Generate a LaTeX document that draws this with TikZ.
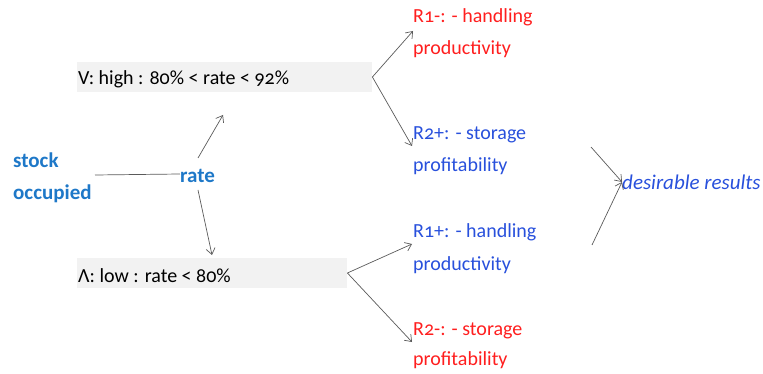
\documentclass[tikz,border=0pt]{standalone}
\usepackage{fontspec}
\setmainfont[Numbers=OldStyle]{Carlito}
\usetikzlibrary{arrows.meta}
\definecolor{stockblue}{RGB}{30,120,200}
\definecolor{rblue}{RGB}{40,80,220}
\definecolor{rred}{RGB}{255,30,30}
\definecolor{boxgray}{RGB}{242,242,242}
\definecolor{linegray}{RGB}{90,90,90}
\tikzset{
  txt/.style={anchor=base west, inner sep=0pt, font=\fontsize{20}{22}\selectfont},
  lbl/.style={txt, text=stockblue, font=\fontsize{21}{23}\selectfont\bfseries},
  redtxt/.style={txt, text=rred},
  bluetxt/.style={txt, text=rblue},
  condbox/.style={anchor=west, fill=boxgray, minimum height=30pt, inner xsep=1pt, inner ysep=0pt, align=left, text depth=0pt},
  conn/.style={draw=linegray, line width=0.7pt},
  arr/.style={conn, -{Straight Barb[length=6pt, width=9pt, line width=0.7pt]}},
}
\begin{document}
\begin{tikzpicture}[x=1pt, y=-1pt]
\useasboundingbox (0,0) rectangle (763,374);
% condition boxes
\node[condbox, minimum width=295pt] (V) at (77,77) {};
\node[txt] (Vt) at (78,85) {V: high : 80\% < rate < 92\%};
\node[condbox, minimum width=270pt] (L) at (77,273) {};
\node[txt] (Lt) at (78,282) {Λ: low : rate < 80\%};
% left labels
\node[lbl] (stock) at (13,168) {stock};
\node[lbl] (occ) at (13,200) {occupied};
\node[lbl] (rate) at (180,183) {rate};
% results
\node[redtxt] (r1m) at (413,23) {R1-: - handling};
\node[redtxt] (r1m2) at (413,55) {productivity};
\node[bluetxt] (r2p) at (413,140) {R2+: - storage};
\node[bluetxt] (r2p2) at (413,172) {profitability};
\node[bluetxt] (r1p) at (413,238) {R1+: - handling};
\node[bluetxt] (r1p2) at (413,270) {productivity};
\node[redtxt] (r2m) at (413,335) {R2-: - storage};
\node[redtxt] (r2m2) at (413,365) {profitability};
\node[txt, text=rblue, font=\fontsize{21}{23}\selectfont\itshape] (des) at (622,190) {desirable results};
% connector end points
\coordinate (stockR) at (95,175);
\coordinate (rateL) at (180,174);
\coordinate (rateT) at (198,158);
\coordinate (rateB) at (198,190);
\coordinate (Vin) at (223,115);
\coordinate (Lin) at (212,255);
\coordinate (r1mIn) at (413,31);
\coordinate (r2pIn) at (412,146);
\coordinate (r1pIn) at (412,244);
\coordinate (r2mIn) at (412,342);
\coordinate (dA) at (591,147);
\coordinate (dB) at (592,245);
\coordinate (desIn) at (622,182);
% connectors
\draw[conn] (stockR) -- (rateL);
\draw[arr] (rateT) -- (Vin);
\draw[arr] (rateB) -- (Lin);
\draw[arr] (V.east) -- (r1mIn);
\draw[arr] (V.east) -- (r2pIn);
\draw[arr] (L.east) -- (r1pIn);
\draw[arr] (L.east) -- (r2mIn);
\draw[arr] (dA) -- (desIn);
\draw[arr] (dB) -- (desIn);
\end{tikzpicture}
\end{document}
